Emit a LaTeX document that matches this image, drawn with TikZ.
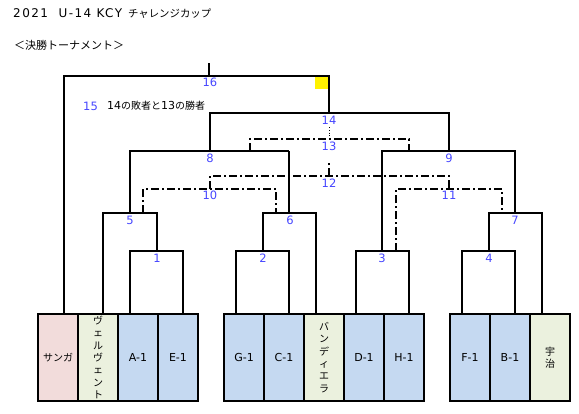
\documentclass[tikz,border=0pt]{standalone}
\usepackage{fontspec}
\setmainfont{Noto Sans CJK JP}
\newfontfamily\lat{DejaVu Sans}
\newfontfamily\latw[LetterSpace=12]{DejaVu Sans}
\definecolor{pinkc}{HTML}{F2DCDB}
\definecolor{greenc}{HTML}{EBF1DE}
\definecolor{bluec}{HTML}{C5D9F1}
\definecolor{numblue}{HTML}{4545FF}
\begin{document}
\begin{tikzpicture}[x=1pt,y=-1pt,
  br/.style={line width=2pt},
  dd/.style={line width=2pt, dash pattern=on 8pt off 3pt on 2pt off 3pt},
  num/.style={text=numblue, font=\lat\fontsize{11.5}{13}\selectfont, inner sep=0pt},
  team/.style={draw, line width=2pt, minimum width=40pt, minimum height=87pt, anchor=north west, inner sep=0pt, font=\lat\fontsize{11}{12}\selectfont},
  vteam/.style={team, align=center, font=\fontsize{10}{12.3}\selectfont},
  lbl/.style={anchor=west, inner sep=0pt}
]
\useasboundingbox (0,0) rectangle (579,413);

% titles
\node[lbl, font=\fontsize{10.4}{12}\selectfont] (title) at (13,14) {{\latw\fontsize{12}{12}\selectfont 2021\ \ U-14 KCY}\hspace{6pt}チャレンジカップ};
\node[lbl, font=\fontsize{11}{12}\selectfont] (sub) at (14,45) {＜決勝トーナメント＞};
\node[num, anchor=west] (m15) at (83,106) {15};
\node[lbl, font=\fontsize{10}{12}\selectfont] (m15t) at (107,106) {{\lat\fontsize{11}{12}\selectfont 14}の敗者と{\lat\fontsize{11}{12}\selectfont 13}の勝者};

% teams
\node[team, fill=pinkc, font=\fontsize{10}{12}\selectfont] (sanga) at (37,313) {サンガ};
\node[vteam, fill=greenc] (vel) at (77,313) {ヴ\\ェ\\ル\\ヴ\\ェ\\ン\\ト};
\node[team, fill=bluec] (a1) at (117,313) {A-1};
\node[team, fill=bluec] (e1) at (157,313) {E-1};
\node[team, fill=bluec] (g1) at (223,313) {G-1};
\node[team, fill=bluec] (c1) at (263,313) {C-1};
\node[vteam, fill=greenc] (ban) at (303,313) {バ\\ン\\デ\\ィ\\エ\\ラ};
\node[team, fill=bluec] (d1) at (343,313) {D-1};
\node[team, fill=bluec] (h1) at (383,313) {H-1};
\node[team, fill=bluec] (f1) at (449,313) {F-1};
\node[team, fill=bluec] (b1) at (489,313) {B-1};
\node[vteam, fill=greenc] (uji) at (529,313) {宇\\治};

% bracket (solid)
\draw[br] (130,313) |- (183,251) -- (183,313);   % 1
\draw[br] (236,313) |- (289,251) -- (289,313);   % 2
\draw[br] (356,313) |- (409,251) -- (409,313);   % 3
\draw[br] (462,313) |- (515,251) -- (515,313);   % 4
\draw[br] (103,313) |- (157,213) -- (157,251);   % 5
\draw[br] (263,251) |- (316,213) -- (316,313);   % 6
\draw[br] (489,251) |- (542,213) -- (542,313);   % 7
\draw[br] (130,213) |- (289,151);                % 8
\draw[line width=1.2pt] (289,151) -- (289,213);
\draw[br] (382,251) |- (515,151) -- (515,213);   % 9
\draw[br] (210,151) |- (449,113) -- (449,151);   % 14
\draw[br] (64,313) |- (329,76) -- (329,113);     % 16
\draw[line width=1.2pt] (209,63) -- (209,76);
\fill[yellow] (315,77) rectangle (328,89);

% dashed (losers)
\draw[dd] (143,213) |- (276,189) -- (276,213);   % 10
\draw[dd] (396,251) |- (502,189) -- (502,213);   % 11
\draw[dd] (210,189) |- (449,176) -- (449,189);   % 12
\draw[dd] (329,176) -- (329,163);
\draw[dd] (250,151) |- (409,139) -- (409,151);   % 13
\draw[line width=0.8pt, dotted] (329,127) -- (329,137);

% match numbers
\node[num] (m1) at (157,258) {1};
\node[num] (m2) at (263,258) {2};
\node[num] (m3) at (382,258) {3};
\node[num] (m4) at (489,258) {4};
\node[num] (m5) at (130,220) {5};
\node[num] (m6) at (290,220) {6};
\node[num] (m7) at (515,220) {7};
\node[num] (m8) at (210,158) {8};
\node[num] (m9) at (449,158) {9};
\node[num] (m10) at (210,195) {10};
\node[num] (m11) at (449,195) {11};
\node[num] (m12) at (329,183) {12};
\node[num] (m13) at (329,146) {13};
\node[num] (m14) at (329,120) {14};
\node[num] (m16) at (210,82) {16};
\end{tikzpicture}
\end{document}
